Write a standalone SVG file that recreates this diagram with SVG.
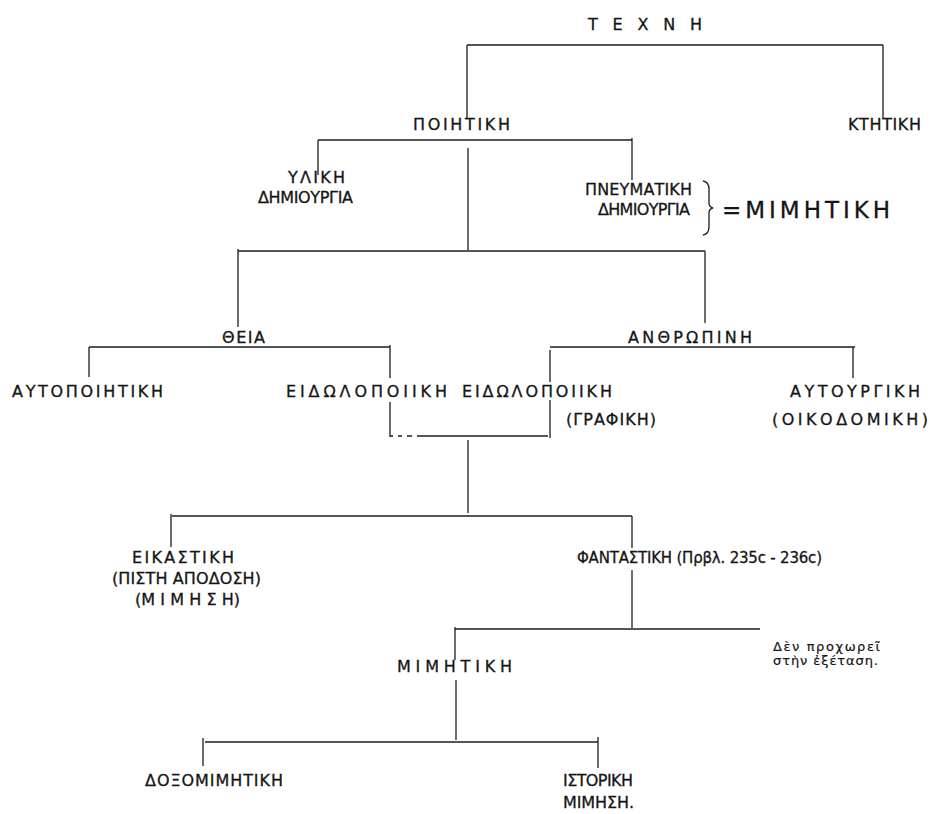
<svg xmlns="http://www.w3.org/2000/svg" width="934" height="814" viewBox="0 0 934 814">
<style>
.t{font-family:"DejaVu Sans","Liberation Sans",sans-serif;font-size:16px;fill:#151515;stroke:#151515;stroke-width:0.3}
.s{font-family:"DejaVu Sans","Liberation Sans",sans-serif;font-size:13px;fill:#151515;stroke:#151515;stroke-width:0.2}
.c{stroke:#1e1e1e;stroke-width:1.3;fill:none}
</style>
<rect width="934" height="814" fill="#ffffff"/>
<g id="connectors" class="c">
<path d="M467 45H883M467 45V118M883 45V118"/>
<path d="M318 140H632M318 140V175M632 138V180M468 148V250"/>
<path d="M238 251H705M238 249V327M705 251V323"/>
<path d="M89 347H390M89 347V377M390 345V378"/>
<path d="M550 347H855M550 350V382M853 347V378"/>
<path d="M390 402V437M550 400V438"/>
<path d="M390 436h3M398 436h4M407 436h5M417 436H548"/>
<path d="M468 440V513"/>
<path d="M172 516H632M171 514V547M632 516V548"/>
<path d="M632 570V628"/>
<path d="M455 629H760M455 627V660"/>
<path d="M456 680V740"/>
<path d="M205 742H598M203 738V766M598 737V768"/>
<path d="M703 181q6 1 6 8v14q0 4 4 5q-4 1-4 5v14q0 7-6 8"/>
</g>
<g id="techni"><text class="t" x="588" y="30" textLength="114" lengthAdjust="spacing" style="font-size:16px">Τ Ε Χ Ν Η</text></g>
<g id="poiitiki"><text class="t" x="413" y="130" textLength="97" lengthAdjust="spacing">ΠΟΙΗΤΙΚΗ</text></g>
<g id="ktitiki"><text class="t" x="848" y="130" textLength="73" lengthAdjust="spacing">ΚΤΗΤΙΚΗ</text></g>
<g id="yliki"><text class="t" x="288" y="183" textLength="57" lengthAdjust="spacing">ΥΛΙΚΗ</text><text class="t" x="258" y="203" textLength="95" lengthAdjust="spacing">ΔΗΜΙΟΥΡΓΙΑ</text></g>
<g id="pneumatiki"><text class="t" x="585" y="195" textLength="107" lengthAdjust="spacing">ΠΝΕΥΜΑΤΙΚΗ</text><text class="t" x="598" y="215" textLength="92" lengthAdjust="spacing">ΔΗΜΙΟΥΡΓΙΑ</text></g>
<g id="mimitiki-eq"><text class="t" x="722" y="218" textLength="168" lengthAdjust="spacing" style="font-size:23px">=ΜΙΜΗΤΙΚΗ</text></g>
<g id="theia"><text class="t" x="222" y="343" textLength="43" lengthAdjust="spacing">ΘΕΙΑ</text></g>
<g id="anthropini"><text class="t" x="628" y="343" textLength="124" lengthAdjust="spacing">ΑΝΘΡΩΠΙΝΗ</text></g>
<g id="autopoiitiki"><text class="t" x="12" y="397" textLength="151" lengthAdjust="spacing">ΑΥΤΟΠΟΙΗΤΙΚΗ</text></g>
<g id="eidolopoiiki1"><text class="t" x="286" y="397" textLength="161" lengthAdjust="spacing">ΕΙΔΩΛΟΠΟΙΙΚΗ</text></g>
<g id="eidolopoiiki2"><text class="t" x="462" y="397" textLength="150" lengthAdjust="spacing">ΕΙΔΩΛΟΠΟΙΙΚΗ</text><text class="t" x="566" y="425" textLength="90" lengthAdjust="spacing">(ΓΡΑΦΙΚΗ)</text></g>
<g id="autourgiki"><text class="t" x="790" y="397" textLength="130" lengthAdjust="spacing">ΑΥΤΟΥΡΓΙΚΗ</text><text class="t" x="772" y="425" textLength="156" lengthAdjust="spacing">(ΟΙΚΟΔΟΜΙΚΗ)</text></g>
<g id="eikastiki"><text class="t" x="132" y="563" textLength="102" lengthAdjust="spacing">ΕΙΚΑΣΤΙΚΗ</text><text class="t" x="112" y="584" textLength="149" lengthAdjust="spacing">(ΠΙΣΤΗ ΑΠΟΔΟΣΗ)</text><text class="t" x="135" y="605" textLength="105" lengthAdjust="spacing">(Μ Ι Μ Η Σ Η)</text></g>
<g id="fantastiki"><text class="t" x="577" y="563" textLength="245" lengthAdjust="spacing" style="font-size:15px">ΦΑΝΤΑΣΤΙΚΗ (Πρβλ. 235c - 236c)</text></g>
<g id="note"><text class="s" x="773" y="651" textLength="107" lengthAdjust="spacing">Δὲν προχωρεῖ</text><text class="s" x="773" y="665" textLength="105" lengthAdjust="spacing">στὴν ἐξέταση.</text></g>
<g id="mimitiki"><text class="t" x="397" y="672" textLength="115" lengthAdjust="spacing">ΜΙΜΗΤΙΚΗ</text></g>
<g id="doxomimitiki"><text class="t" x="145" y="786" textLength="138" lengthAdjust="spacing">ΔΟΞΟΜΙΜΗΤΙΚΗ</text></g>
<g id="istoriki"><text class="t" x="563" y="786" textLength="70" lengthAdjust="spacing">ΙΣΤΟΡΙΚΗ</text><text class="t" x="563" y="808" textLength="71" lengthAdjust="spacing">ΜΙΜΗΣΗ.</text></g>
</svg>
